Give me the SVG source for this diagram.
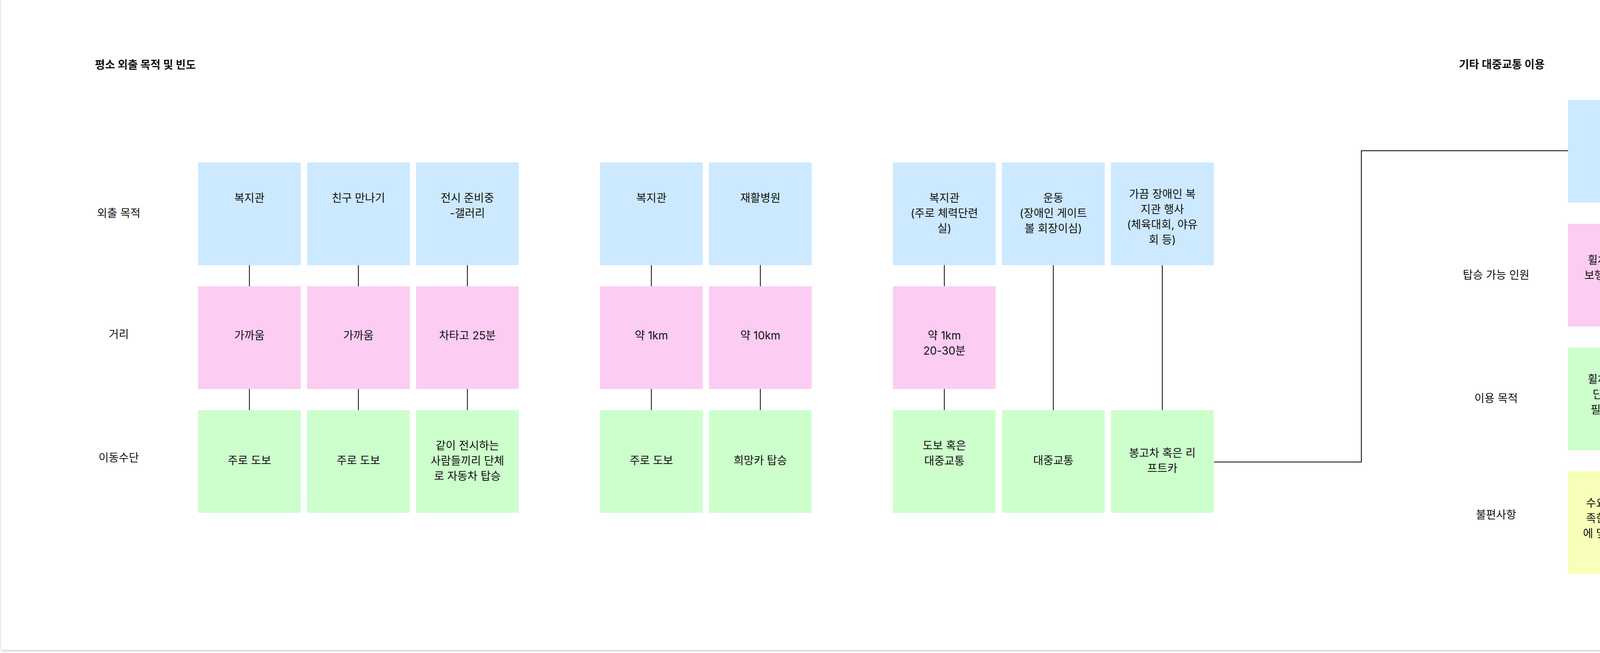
<svg xmlns="http://www.w3.org/2000/svg" width="5150" height="1672" viewBox="0 0 5150 1672">
  <defs>
    <filter id="pageShadow" x="-1%" y="-5%" width="102%" height="110%">
      <feDropShadow dx="0" dy="2" stdDeviation="3" flood-color="#000" flood-opacity="0.25"/>
    </filter>
  </defs>
  <style>
    text { font-family: "Inter", "Noto Sans CJK KR", "Noto Sans", sans-serif; font-size: 28px; fill: #111; text-anchor: middle; dominant-baseline: central; }
    .title { font-weight: 700; text-anchor: start; }
    .blue { fill: #CCE9FF; }
    .pink { fill: #FDCCF2; }
    .green { fill: #CCFFCC; }
    .yellow { fill: #F7FFB8; }
    .conn { stroke: #000; stroke-width: 2; fill: none; }
  </style>
  <rect x="0" y="0" width="5150" height="1672" fill="#fff"/>
  <rect x="3" y="-20" width="5143" height="1684" fill="#fff" filter="url(#pageShadow)"/>

  <g id="titles">
    <text class="title" x="243" y="166">평소 외출 목적 및 빈도</text>
    <text class="title" x="3735" y="165">기타 대중교통 이용</text>
  </g>

  <g id="row-labels">
    <text x="304" y="546">외출 목적</text>
    <text x="304" y="856">거리</text>
    <text x="304" y="1172">이동수단</text>
    <text x="3830" y="704">탑승 가능 인원</text>
    <text x="3830" y="1020">이용 목적</text>
    <text x="3830" y="1318">불편사항</text>
  </g>

  <g id="connectors">
    <line class="conn" x1="638.5" y1="679" x2="638.5" y2="733"/>
    <line class="conn" x1="638.5" y1="996" x2="638.5" y2="1050"/>
    <line class="conn" x1="917.5" y1="679" x2="917.5" y2="733"/>
    <line class="conn" x1="917.5" y1="996" x2="917.5" y2="1050"/>
    <line class="conn" x1="1196.5" y1="679" x2="1196.5" y2="733"/>
    <line class="conn" x1="1196.5" y1="996" x2="1196.5" y2="1050"/>
    <line class="conn" x1="1667.5" y1="679" x2="1667.5" y2="733"/>
    <line class="conn" x1="1667.5" y1="996" x2="1667.5" y2="1050"/>
    <line class="conn" x1="1946.5" y1="679" x2="1946.5" y2="733"/>
    <line class="conn" x1="1946.5" y1="996" x2="1946.5" y2="1050"/>
    <line class="conn" x1="2417.5" y1="679" x2="2417.5" y2="733"/>
    <line class="conn" x1="2417.5" y1="996" x2="2417.5" y2="1050"/>
    <line class="conn" x1="2696.5" y1="679" x2="2696.5" y2="1050"/>
    <line class="conn" x1="2975.5" y1="679" x2="2975.5" y2="1050"/>
    <polyline class="conn" points="3108,1183 3485,1183 3485,386 4014,386"/>
    <line class="conn" x1="4145.5" y1="519" x2="4145.5" y2="573"/>
    <line class="conn" x1="4145.5" y1="836" x2="4145.5" y2="890"/>
    <line class="conn" x1="4145.5" y1="1153" x2="4145.5" y2="1207"/>
    <line class="conn" x1="4437.5" y1="519" x2="4437.5" y2="890"/>
    <line class="conn" x1="4437.5" y1="1153" x2="4437.5" y2="1207"/>
  </g>

  <!-- Group 1 -->
  <g id="g1-purpose-1"><rect class="blue" x="507" y="416" width="263" height="263"/><text x="638.5" y="507">복지관</text></g>
  <g id="g1-purpose-2"><rect class="blue" x="786" y="416" width="263" height="263"/><text x="917.5" y="507">친구 만나기</text></g>
  <g id="g1-purpose-3"><rect class="blue" x="1065" y="416" width="263" height="263"/><text x="1196.5" y="507">전시 준비중</text><text x="1196.5" y="546">-갤러리</text></g>
  <g id="g1-distance-1"><rect class="pink" x="507" y="733" width="263" height="263"/><text x="638.5" y="859">가까움</text></g>
  <g id="g1-distance-2"><rect class="pink" x="786" y="733" width="263" height="263"/><text x="917.5" y="859">가까움</text></g>
  <g id="g1-distance-3"><rect class="pink" x="1065" y="733" width="263" height="263"/><text x="1196.5" y="859">차타고 25분</text></g>
  <g id="g1-transport-1"><rect class="green" x="507" y="1050" width="263" height="263"/><text x="638.5" y="1179">주로 도보</text></g>
  <g id="g1-transport-2"><rect class="green" x="786" y="1050" width="263" height="263"/><text x="917.5" y="1179">주로 도보</text></g>
  <g id="g1-transport-3"><rect class="green" x="1065" y="1050" width="263" height="263"/><text x="1196.5" y="1141">같이 전시하는</text><text x="1196.5" y="1180">사람들끼리 단체</text><text x="1196.5" y="1219">로 자동차 탑승</text></g>

  <!-- Group 2 -->
  <g id="g2-purpose-1"><rect class="blue" x="1536" y="416" width="263" height="263"/><text x="1667.5" y="507">복지관</text></g>
  <g id="g2-purpose-2"><rect class="blue" x="1815" y="416" width="263" height="263"/><text x="1946.5" y="507">재활병원</text></g>
  <g id="g2-distance-1"><rect class="pink" x="1536" y="733" width="263" height="263"/><text x="1667.5" y="859">약 1km</text></g>
  <g id="g2-distance-2"><rect class="pink" x="1815" y="733" width="263" height="263"/><text x="1946.5" y="859">약 10km</text></g>
  <g id="g2-transport-1"><rect class="green" x="1536" y="1050" width="263" height="263"/><text x="1667.5" y="1179">주로 도보</text></g>
  <g id="g2-transport-2"><rect class="green" x="1815" y="1050" width="263" height="263"/><text x="1946.5" y="1179">희망카 탑승</text></g>

  <!-- Group 3 -->
  <g id="g3-purpose-1"><rect class="blue" x="2286" y="416" width="263" height="263"/><text x="2417.5" y="507">복지관</text><text x="2417.5" y="546">(주로 체력단련</text><text x="2417.5" y="585">실)</text></g>
  <g id="g3-purpose-2"><rect class="blue" x="2565" y="416" width="263" height="263"/><text x="2696.5" y="507">운동</text><text x="2696.5" y="546">(장애인 게이트</text><text x="2696.5" y="585">볼 회장이심)</text></g>
  <g id="g3-purpose-3"><rect class="blue" x="2844" y="416" width="263" height="263"/><text x="2975.5" y="497">가끔 장애인 복</text><text x="2975.5" y="536">지관 행사</text><text x="2975.5" y="575">(체육대회, 야유</text><text x="2975.5" y="614">회 등)</text></g>
  <g id="g3-distance-1"><rect class="pink" x="2286" y="733" width="263" height="263"/><text x="2417.5" y="859">약 1km</text><text x="2417.5" y="898">20-30분</text></g>
  <g id="g3-transport-1"><rect class="green" x="2286" y="1050" width="263" height="263"/><text x="2417.5" y="1141">도보 혹은</text><text x="2417.5" y="1180">대중교통</text></g>
  <g id="g3-transport-2"><rect class="green" x="2565" y="1050" width="263" height="263"/><text x="2696.5" y="1179">대중교통</text></g>
  <g id="g3-transport-3"><rect class="green" x="2844" y="1050" width="263" height="263"/><text x="2975.5" y="1160">봉고차 혹은 리</text><text x="2975.5" y="1199">프트카</text></g>

  <!-- Other public transport -->
  <g id="liftcar"><rect class="blue" x="4014" y="256" width="263" height="263"/><text x="4145.5" y="377">리프트카</text></g>
  <g id="public-transit"><rect class="blue" x="4306" y="256" width="263" height="263"/><text x="4437.5" y="377">일반 대중교통</text></g>
  <g id="liftcar-capacity"><rect class="pink" x="4014" y="573" width="263" height="263"/><text x="4145.5" y="666">휠체어 6대 및</text><text x="4145.5" y="705">보행자 20명 탑</text><text x="4145.5" y="744">승 가능</text></g>
  <g id="liftcar-purpose"><rect class="green" x="4014" y="890" width="263" height="263"/><text x="4145.5" y="971">휠체어 탑승자</text><text x="4145.5" y="1010">단체 이동시</text><text x="4145.5" y="1049">필요 (야유회</text><text x="4145.5" y="1088">등)</text></g>
  <g id="transit-purpose"><rect class="green" x="4306" y="890" width="263" height="263"/><text x="4437.5" y="943">그냥 보통의 이</text><text x="4437.5" y="982">동시..</text><text x="4437.5" y="1021">(콜택시를 사용</text><text x="4437.5" y="1060">할 수 없는 경우</text><text x="4437.5" y="1099">도)</text></g>
  <g id="liftcar-issue"><rect class="yellow" x="4014" y="1207" width="263" height="263"/><text x="4145.5" y="1288">수요에 비해 부</text><text x="4145.5" y="1327">족한 공급 때문</text><text x="4145.5" y="1366">에 몇 달 전 예약</text><text x="4145.5" y="1405">필수</text></g>
  <g id="transit-issue"><rect class="yellow" x="4306" y="1207" width="263" height="263"/><text x="4437.5" y="1288">수요에 비해 부</text><text x="4437.5" y="1327">족한 공급 때문</text><text x="4437.5" y="1366">에 몇 달 전 예약</text><text x="4437.5" y="1405">필수</text></g>
</svg>
